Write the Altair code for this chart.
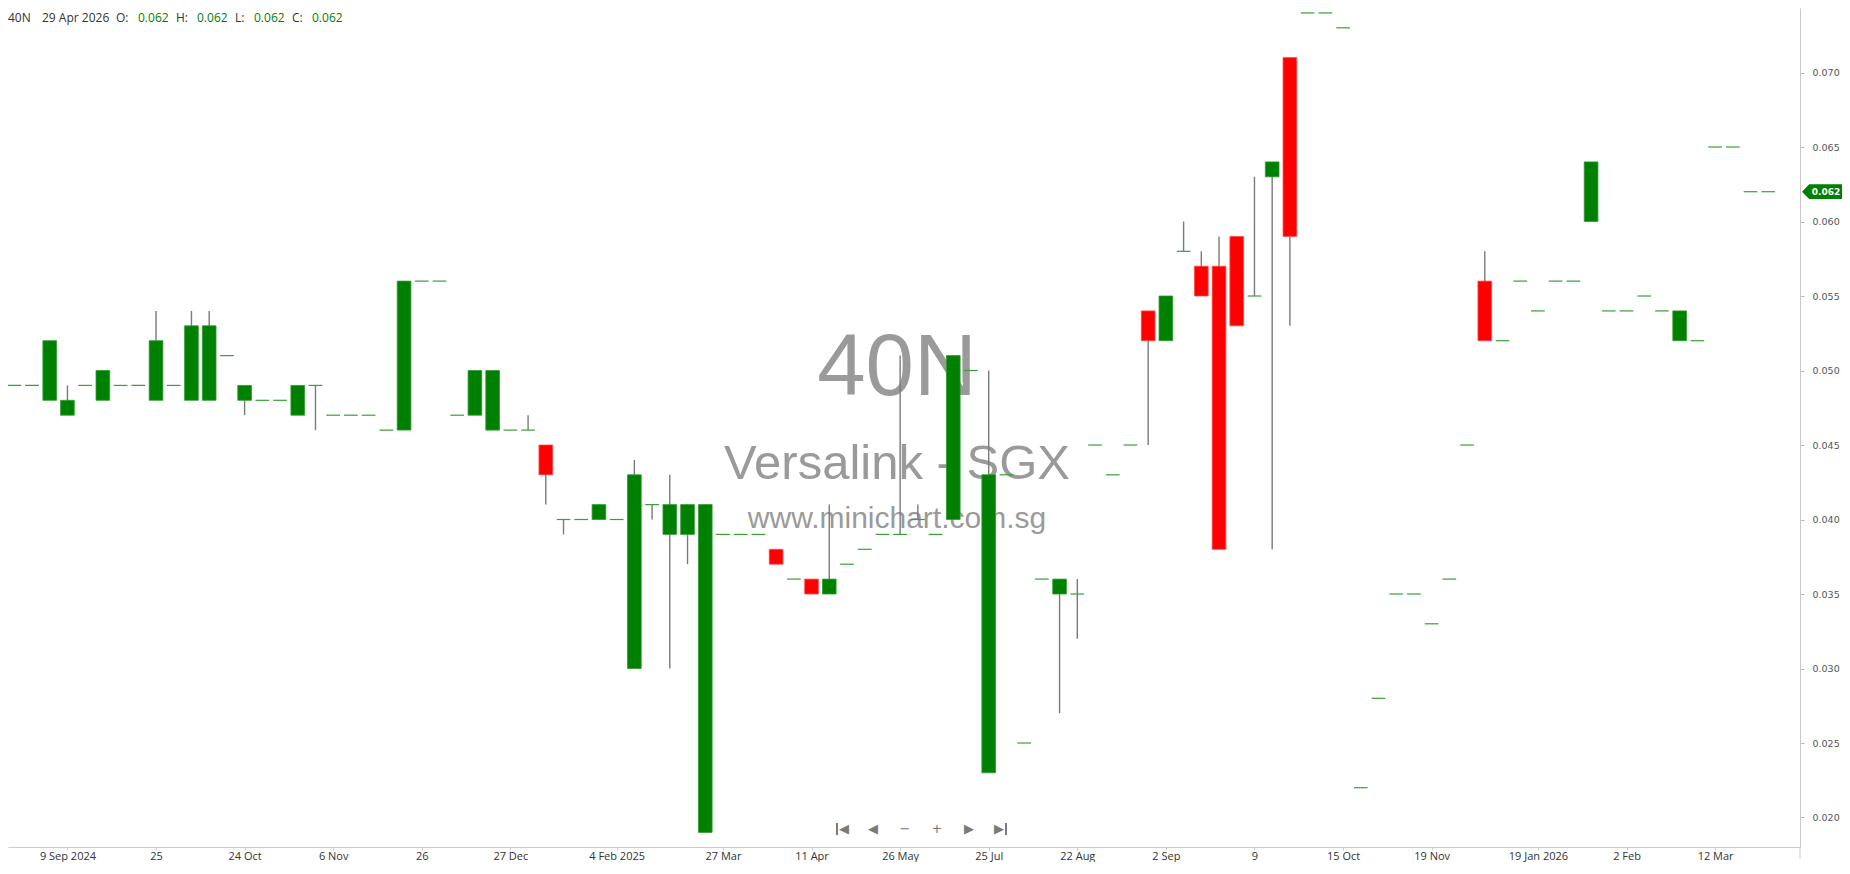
import json
import altair as alt
import pandas as pd

# ---------------- data ----------------
ticker = "40N"
last_date = "29 Apr 2026"
wm_title = "40N"
wm_sub = "Versalink - SGX"
wm_url = "www.minichart.com.sg"

open_ = [0.049, 0.049, 0.048, 0.047, 0.049, 0.048, 0.049, 0.049, 0.048, 0.049,
         0.048, 0.048, 0.051, 0.048, 0.048, 0.048, 0.047, 0.049, 0.047, 0.047,
         0.047, 0.046, 0.046, 0.056, 0.056, 0.047, 0.047, 0.046, 0.046, 0.046,
         0.045, 0.040, 0.040, 0.040, 0.040, 0.030, 0.041, 0.039, 0.039, 0.019,
         0.039, 0.039, 0.039, 0.038, 0.036, 0.036, 0.035, 0.037, 0.038, 0.039,
         0.039, 0.040, 0.039, 0.040, 0.050, 0.023, 0.043, 0.025, 0.036, 0.035,
         0.035, 0.045, 0.043, 0.045, 0.054, 0.052, 0.058, 0.057, 0.057, 0.059,
         0.055, 0.063, 0.071, 0.074, 0.074, 0.073, 0.022, 0.028, 0.035, 0.035,
         0.033, 0.036, 0.045, 0.056, 0.052, 0.056, 0.054, 0.056, 0.056, 0.060,
         0.054, 0.054, 0.055, 0.054, 0.052, 0.052, 0.065, 0.065, 0.062, 0.062]
high = [0.049, 0.049, 0.052, 0.049, 0.049, 0.050, 0.049, 0.049, 0.054, 0.049,
        0.054, 0.054, 0.051, 0.049, 0.048, 0.048, 0.049, 0.049, 0.047, 0.047,
        0.047, 0.046, 0.056, 0.056, 0.056, 0.047, 0.050, 0.050, 0.046, 0.047,
        0.045, 0.040, 0.040, 0.041, 0.040, 0.044, 0.041, 0.043, 0.041, 0.041,
        0.039, 0.039, 0.039, 0.038, 0.036, 0.036, 0.041, 0.037, 0.038, 0.039,
        0.051, 0.041, 0.039, 0.051, 0.050, 0.050, 0.043, 0.025, 0.036, 0.036,
        0.036, 0.045, 0.043, 0.045, 0.054, 0.055, 0.060, 0.058, 0.059, 0.059,
        0.063, 0.064, 0.071, 0.074, 0.074, 0.073, 0.022, 0.028, 0.035, 0.035,
        0.033, 0.036, 0.045, 0.058, 0.052, 0.056, 0.054, 0.056, 0.056, 0.064,
        0.054, 0.054, 0.055, 0.054, 0.054, 0.052, 0.065, 0.065, 0.062, 0.062]
low = [0.049, 0.049, 0.048, 0.047, 0.049, 0.048, 0.049, 0.049, 0.048, 0.049,
       0.048, 0.048, 0.051, 0.047, 0.048, 0.048, 0.047, 0.046, 0.047, 0.047,
       0.047, 0.046, 0.046, 0.056, 0.056, 0.047, 0.047, 0.046, 0.046, 0.046,
       0.041, 0.039, 0.040, 0.040, 0.040, 0.030, 0.040, 0.030, 0.037, 0.019,
       0.039, 0.039, 0.039, 0.037, 0.036, 0.035, 0.035, 0.037, 0.038, 0.039,
       0.039, 0.040, 0.039, 0.040, 0.050, 0.023, 0.043, 0.025, 0.036, 0.027,
       0.032, 0.045, 0.043, 0.045, 0.045, 0.052, 0.058, 0.055, 0.038, 0.053,
       0.055, 0.038, 0.053, 0.074, 0.074, 0.073, 0.022, 0.028, 0.035, 0.035,
       0.033, 0.036, 0.045, 0.052, 0.052, 0.056, 0.054, 0.056, 0.056, 0.060,
       0.054, 0.054, 0.055, 0.054, 0.052, 0.052, 0.065, 0.065, 0.062, 0.062]
close = [0.049, 0.049, 0.052, 0.048, 0.049, 0.050, 0.049, 0.049, 0.052, 0.049,
         0.053, 0.053, 0.051, 0.049, 0.048, 0.048, 0.049, 0.049, 0.047, 0.047,
         0.047, 0.046, 0.056, 0.056, 0.056, 0.047, 0.050, 0.050, 0.046, 0.046,
         0.043, 0.040, 0.040, 0.041, 0.040, 0.043, 0.041, 0.041, 0.041, 0.041,
         0.039, 0.039, 0.039, 0.037, 0.036, 0.035, 0.036, 0.037, 0.038, 0.039,
         0.039, 0.040, 0.039, 0.051, 0.050, 0.043, 0.043, 0.025, 0.036, 0.036,
         0.035, 0.045, 0.043, 0.045, 0.052, 0.055, 0.058, 0.055, 0.038, 0.053,
         0.055, 0.064, 0.059, 0.074, 0.074, 0.073, 0.022, 0.028, 0.035, 0.035,
         0.033, 0.036, 0.045, 0.052, 0.052, 0.056, 0.054, 0.056, 0.056, 0.064,
         0.054, 0.054, 0.055, 0.054, 0.054, 0.052, 0.065, 0.065, 0.062, 0.062]

tick_idx = [3, 8, 13, 18, 23, 28, 34, 40, 45, 50, 55, 60, 65, 70, 75, 80, 86, 91, 96]
tick_lbl = ["9 Sep 2024", "25", "24 Oct", "6 Nov", "26", "27 Dec", "4 Feb 2025",
            "27 Mar", "11 Apr", "26 May", "25 Jul", "22 Aug", "2 Sep", "9",
            "15 Oct", "19 Nov", "19 Jan 2026", "2 Feb", "12 Mar"]
y_ticks = [0.020, 0.025, 0.030, 0.035, 0.040, 0.045, 0.050, 0.055, 0.060, 0.065, 0.070]

# ---------------- layout / style ----------------
W, H = 1792, 839
PAD_RIGHT, PAD_BOTTOM = 42, 15
X_DOM = [-0.073, 100.51]
Y_DOM = [0.01802, 0.07433]
GREEN = "#008000"
RED = "#ff0000"
UI_FONT = "Open Sans"
ICON = "#7a7a7a"

df = pd.DataFrame({"i": list(range(len(open_))), "o": open_, "h": high,
                   "l": low, "c": close})
df["lo"] = df[["o", "c"]].min(axis=1)
df["hi"] = df[["o", "c"]].max(axis=1)
df["dir"] = ["down" if c < o else "up" for o, c in zip(open_, close)]

label_expr = f"{json.dumps(tick_lbl)}[indexof({json.dumps(tick_idx)}, datum.value)]"

x_axis = alt.Axis(values=tick_idx, labelExpr=label_expr, grid=False, title=None,
                  domainColor="#cccccc", tickColor="#cccccc", tickSize=3,
                  labelFont=UI_FONT, labelFontSize=11, labelColor="#333333",
                  labelPadding=0, labelFlush=False, labelOverlap=False)
y_axis = alt.Axis(orient="right", values=y_ticks, format=".3f", grid=False, title=None,
                  domainColor="#c8c8c8", tickColor="#bbbbbb", tickSize=4,
                  labelFont="DejaVu Sans", labelFontSize=9.5, labelColor="#555555",
                  labelPadding=8)
x_scale = alt.Scale(domain=X_DOM, nice=False, zero=False)
y_scale = alt.Scale(domain=Y_DOM, nice=False, zero=False)

X = alt.X("i:Q", scale=x_scale, axis=x_axis)

base = alt.Chart(df)

wicks = base.transform_filter("datum.h > datum.l").mark_rule(
    color="#7a7a7a", strokeWidth=1.4, clip=True
).encode(x=X, y=alt.Y("l:Q", scale=y_scale, axis=y_axis), y2="h:Q")

bodies = base.transform_filter("datum.o != datum.c").mark_bar(
    width=13.7, strokeWidth=0.8, clip=True
).encode(
    x=X,
    y=alt.Y("lo:Q", scale=y_scale, axis=y_axis),
    y2="hi:Q",
    color=alt.Color("dir:N", scale=alt.Scale(domain=["up", "down"], range=[GREEN, RED]), legend=None),
    stroke=alt.Stroke("dir:N", scale=alt.Scale(domain=["up", "down"], range=["#2f9a2f", "#ff4a4a"]), legend=None),
)

dojis = base.transform_filter("datum.o == datum.c").mark_tick(
    orient="horizontal", size=13.7, thickness=1.2, color="#3a9e3a", opacity=1, clip=True
).encode(x=X, y=alt.Y("o:Q", scale=y_scale, axis=y_axis))

one = alt.Data(values=[{}])


def txt(s, x, y, size, color, font=UI_FONT, align="left", weight="normal", baseline="middle"):
    return alt.Chart(one).mark_text(
        text=s, align=align, baseline=baseline, fontSize=size, font=font,
        fontWeight=weight, color=color
    ).encode(x=alt.value(x), y=alt.value(y))


def bar(x, y1, y2, color=ICON, w=2):
    return alt.Chart(one).mark_rule(color=color, strokeWidth=w).encode(
        x=alt.value(x), y=alt.value(y1), y2=alt.value(y2))


# watermark
wm = [
    txt(wm_title, 889, 387, 87, "#9a9a9a", font="Liberation Sans", align="center", baseline="alphabetic"),
    txt(wm_sub, 889, 471, 49, "#9a9a9a", font="Liberation Sans", align="center", baseline="alphabetic"),
    txt(wm_url, 889, 520, 30, "#9a9a9a", font="Liberation Sans", align="center", baseline="alphabetic"),
]

# navigation icons (first, previous, zoom out, zoom in, next, last)
nav_syms = ["◀", "◀", "−", "+", "▶", "▶"]
nav_x = [836, 865, 897, 929, 961, 991]
nav = [txt(s, x, 821, 13, ICON, font="DejaVu Sans", align="center") for s, x in zip(nav_syms, nav_x)]
nav += [bar(829, 815, 827), bar(998, 815, 827)]

# header
hdr_items = [
    (ticker, "#333333"), (last_date, "#333333"),
    ("O:", "#333333"), (f"{open_[-1]:.3f}", GREEN),
    ("H:", "#333333"), (f"{high[-1]:.3f}", GREEN),
    ("L:", "#333333"), (f"{low[-1]:.3f}", GREEN),
    ("C:", "#333333"), (f"{close[-1]:.3f}", GREEN),
]
hdr_x = [0, 34, 108, 130, 168, 189, 227, 246, 284, 304]
hdr = [txt(s, x, 10, 12, c) for (s, c), x in zip(hdr_items, hdr_x)]

# last price marker
arrow_path = "M-1,0L-0.64,-0.37L1,-0.37L1,0.37L-0.64,0.37Z"
marker = alt.Chart(one).mark_point(
    shape=arrow_path, size=1600, filled=True, color=GREEN, opacity=1, strokeWidth=0
).encode(x=alt.value(1814), y=alt.Y(datum=close[-1], type="quantitative", scale=y_scale, axis=y_axis))
marker_txt = alt.Chart(one).mark_text(
    text=f"{close[-1]:.3f}", align="center", baseline="middle", fontSize=9,
    font="DejaVu Sans", fontWeight="bold", color="white"
).encode(x=alt.value(1818), y=alt.Y(datum=close[-1], type="quantitative", scale=y_scale, axis=y_axis))

# y-axis line continuing below x axis
axis_tail = bar(W, H, H + 12, color="#c8c8c8", w=1)

chart = alt.layer(
    *wm, wicks, bodies, dojis, *nav, *hdr, marker, marker_txt, axis_tail
).resolve_scale(color="independent", stroke="independent").properties(
    width=W, height=H,
    autosize=alt.AutoSizeParams(type="none"),
    padding={"left": 0, "top": 0, "right": PAD_RIGHT, "bottom": PAD_BOTTOM},
    background="white"
).configure_view(stroke=None)

chart.save("out.html", embed_options={"renderer": "svg", "actions": False})
